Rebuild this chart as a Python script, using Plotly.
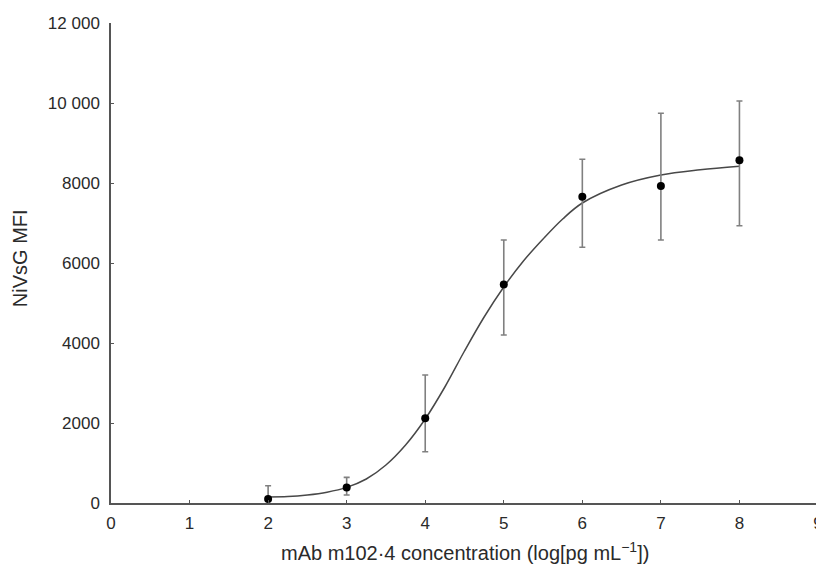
import plotly.graph_objects as go

# Measured points
conc = [2, 3, 4, 5, 6, 7, 8]
mfi = [100, 390, 2117, 5460, 7658, 7925, 8567]
err_plus = [330, 250, 1083, 1115, 934, 1817, 1483]
err_minus = [330, 190, 837, 1260, 1266, 1350, 1634]

# Fitted curve
curve_x = [2.0, 2.25, 2.5, 2.75, 3.0, 3.25, 3.5, 3.75, 4.0, 4.25, 4.5, 4.75,
           5.0, 5.25, 5.5, 5.75, 6.0, 6.5, 7.0, 7.5, 8.0]
curve_y = [150, 160, 200, 270, 390, 600, 950, 1450, 2100, 2900, 3800, 4650,
           5400, 6050, 6600, 7100, 7500, 7950, 8200, 8330, 8420]

x_ticks = [0, 1, 2, 3, 4, 5, 6, 7, 8, 9]
y_ticks = [0, 2000, 4000, 6000, 8000, 10000, 12000]
y_tick_text = ["0", "2000", "4000", "6000", "8000", "10 000", "12 000"]

fig = go.Figure()
fig.add_trace(go.Scatter(
    x=curve_x, y=curve_y, mode="lines",
    line=dict(color="#484848", width=1.5, shape="spline"),
    showlegend=False, hoverinfo="skip"))
fig.add_trace(go.Scatter(
    x=conc, y=mfi, mode="markers",
    marker=dict(color="black", size=8),
    error_y=dict(type="data", symmetric=False, array=err_plus, arrayminus=err_minus,
                 color="#808080", thickness=1.6, width=3),
    showlegend=False))

fam = "Liberation Sans, Arial, sans-serif"
tick_font = dict(family=fam, size=17, color="#2a2a2a")
fig.update_layout(
    width=824, height=567,
    margin=dict(l=103, r=14, t=15, b=72, autoexpand=False),
    paper_bgcolor="white", plot_bgcolor="white",
    showlegend=False,
    font=tick_font,
    xaxis=dict(range=[0, 9], tickvals=x_ticks, ticks="inside", ticklen=3,
               tickcolor="#555555", showline=True, linecolor="#555555", linewidth=1.5,
               showgrid=False, zeroline=False, ticklabelstandoff=4, tickfont=tick_font,
               automargin=False),
    yaxis=dict(range=[0, 12000], tickvals=y_ticks, ticktext=y_tick_text, ticks="inside",
               ticklen=3, tickcolor="#555555", showline=True, linecolor="#555555",
               linewidth=1.5, showgrid=False, zeroline=False, ticklabelstandoff=6,
               tickfont=tick_font, automargin=False),
    annotations=[
        dict(text="mAb m102·4 concentration (log[pg mL<sup>−1</sup>])",
             xref="paper", yref="paper", x=0.5007, y=-0.102,
             xanchor="center", yanchor="middle", showarrow=False,
             font=dict(family=fam, size=20, color="#2a2a2a")),
        dict(text="NiVsG MFI", xref="paper", yref="paper", x=-0.1287, y=0.51,
             xanchor="center", yanchor="middle", textangle=-90, showarrow=False,
             font=dict(family=fam, size=20, color="#2a2a2a")),
    ],
)
fig.write_html("out.html")
